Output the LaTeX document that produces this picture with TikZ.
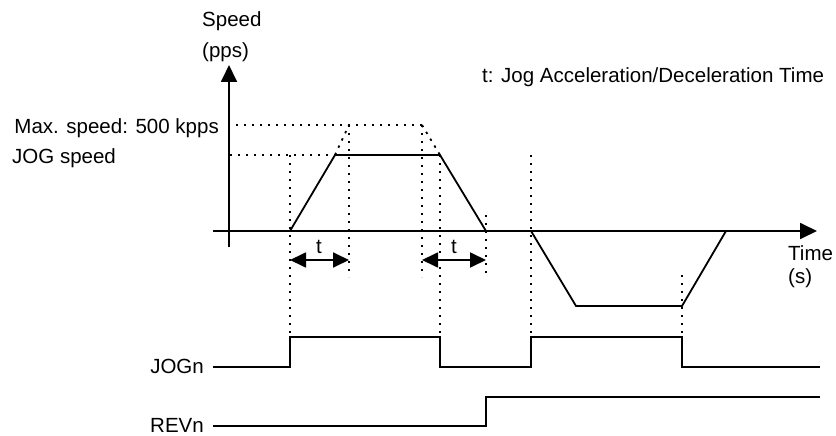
\documentclass[tikz,border=0pt]{standalone}
\usepackage{fontspec}
\setmainfont{Liberation Sans}
\usetikzlibrary{arrows.meta}
\begin{document}
\begin{tikzpicture}[x=1pt,y=-1pt,
  solidline/.style={line width=1.8pt, line join=miter},
  dotline/.style={line width=1.8pt, dash pattern=on 2.4pt off 5.6pt},
  lbl/.style={inner sep=0pt, font=\fontsize{20.5}{24}\selectfont},
  axisarrow/.style={line width=1.8pt, -{Triangle[length=17pt,width=16pt]}},
  tarrow/.style={line width=1.8pt, {Triangle[length=16pt,width=15pt]}-{Triangle[length=16pt,width=15pt]}}]
\useasboundingbox (0,0) rectangle (836,436);

% axes
\coordinate (ybot) at (229,247);
\coordinate (ytop) at (229,65);
\coordinate (xl) at (213,231);
\coordinate (xr) at (817,231);
\draw[axisarrow] (ybot) -- (ytop);
\draw[axisarrow] (xl) -- (xr);

% labels
\node[lbl, anchor=base west] (speed) at (202,27) {Speed};
\node[lbl, anchor=base west] (pps) at (202,57.5) {(pps)};
\node[lbl, anchor=base west] (note) at (482,83) {t: Jog Acceleration/Deceleration Time};
\node[lbl, anchor=base east] (maxsp) at (219,133) {Max. speed: 500 kpps};
\node[lbl, anchor=base west] (jogsp) at (12,163) {JOG speed};
\node[lbl, anchor=base west] (time) at (788,260) {Time};
\node[lbl, anchor=base west] (secs) at (788,283) {(s)};

% forward trapezoid
\coordinate (a0) at (290,231);
\coordinate (a1) at (335,155);
\coordinate (a2) at (440,155);
\coordinate (a3) at (486,231);
\coordinate (m1) at (349,125);
\coordinate (m2) at (422,125);
\draw[solidline] (a0) -- (a1) -- (a2) -- (a3);
\draw[dotline] (a1) -- (m1);
\draw[dotline] (m2) -- (a2);
\coordinate (maxl) at (236,125);
\coordinate (jogl) at (230,155);
\draw[dotline] (maxl) -- (m2);
\draw[dotline] (jogl) -- (a1);

% reverse trapezoid
\coordinate (b0) at (531,231);
\coordinate (b1) at (576,306);
\coordinate (b2) at (682,306);
\coordinate (b3) at (726,231);
\draw[solidline] (b0) -- (b1) -- (b2) -- (b3);

% JOGn signal
\node[lbl, anchor=east] (jogn) at (204,366) {JOGn};
\coordinate (j0) at (213,367);
\coordinate (j1) at (290,367);
\coordinate (j2) at (290,337);
\coordinate (j3) at (440,337);
\coordinate (j4) at (440,367);
\coordinate (j5) at (531,367);
\coordinate (j6) at (531,337);
\coordinate (j7) at (682,337);
\coordinate (j8) at (682,367);
\coordinate (j9) at (820,367);
\draw[solidline] (j0) -- (j1) -- (j2) -- (j3) -- (j4) -- (j5) -- (j6) -- (j7) -- (j8) -- (j9);

% REVn signal
\node[lbl, anchor=east] (revn) at (204,425.5) {REVn};
\coordinate (r0) at (213,426);
\coordinate (r1) at (486,426);
\coordinate (r2) at (486,397);
\coordinate (r3) at (820,397);
\draw[solidline] (r0) -- (r1) -- (r2) -- (r3);

% vertical dotted guides
\coordinate (v1t) at (290,155);
\draw[dotline] (v1t) -- (j2);
\coordinate (v2t) at (349,125); \coordinate (v2b) at (349,277);
\draw[dotline] (v2t) -- (v2b);
\coordinate (v3t) at (422,125); \coordinate (v3b) at (422,277);
\draw[dotline] (v3t) -- (v3b);
\draw[dotline] (a2) -- (j3);
\coordinate (v5t) at (486,215); \coordinate (v5b) at (486,277);
\draw[dotline] (v5t) -- (v5b);
\coordinate (v6t) at (531,155);
\draw[dotline] (v6t) -- (j6);
\coordinate (v7t) at (682,275);
\draw[dotline] (v7t) -- (j7);

% t arrows
\coordinate (t1l) at (290,260); \coordinate (t1r) at (349,260);
\draw[tarrow] (t1l) -- (t1r);
\node[lbl] (t1) at (319,247) {t};
\coordinate (t2l) at (422,260); \coordinate (t2r) at (486,260);
\draw[tarrow] (t2l) -- (t2r);
\node[lbl] (t2) at (454,247) {t};
\end{tikzpicture}
\end{document}
